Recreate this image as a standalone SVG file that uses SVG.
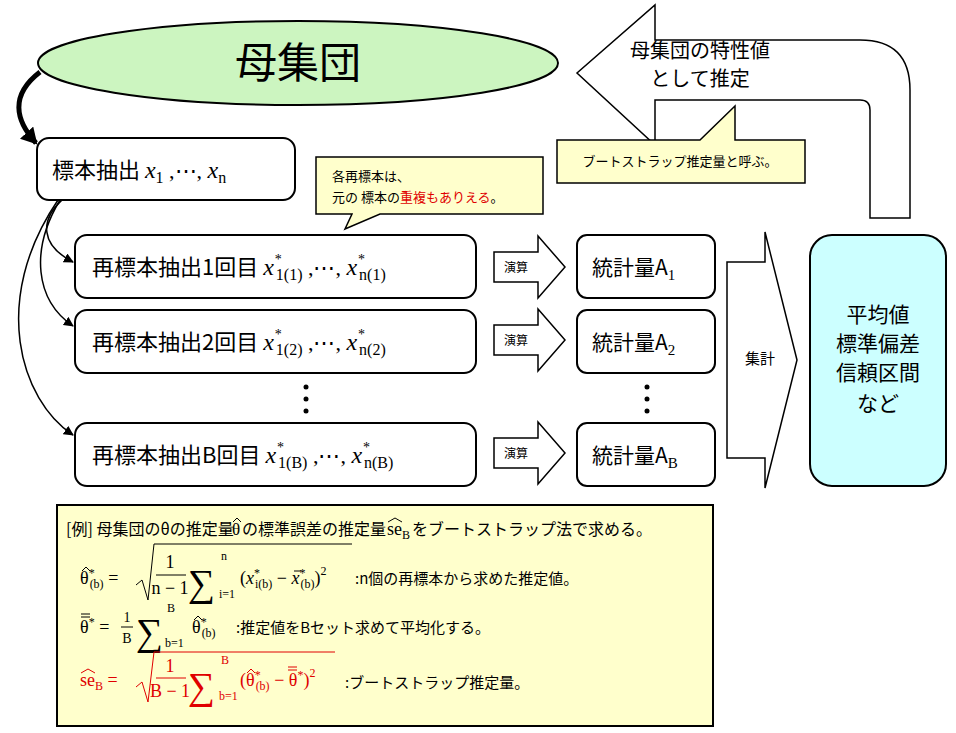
<svg xmlns="http://www.w3.org/2000/svg" width="956" height="733" viewBox="0 0 956 733">
<style>
.j{font-family:"Noto Sans CJK JP","Liberation Sans",sans-serif;fill:#000}
.m{font-family:"Liberation Serif","DejaVu Serif",serif;fill:#000}
.i{font-style:italic}
.box{fill:#fff;stroke:#000;stroke-width:2}
.blk{fill:#fff;stroke:#000;stroke-width:1.5}
.call{fill:#ffffcc;stroke:#000;stroke-width:1.5}
.r{fill:#e00000}
.f{font-family:"Liberation Serif","DejaVu Serif",serif;font-size:18px;fill:#000}
.fr{fill:#e00000}
.s{font-size:12px}
.sg{font-size:40px}
.hat{fill:none;stroke:#000;stroke-width:1}
</style>
<defs>
<marker id="ah" markerWidth="10" markerHeight="10" refX="9" refY="5" orient="auto" markerUnits="userSpaceOnUse"><path d="M0,0 L10,5 L0,10 Z" fill="#000"/></marker>
<marker id="ahb" markerWidth="18" markerHeight="18" refX="14" refY="9" orient="auto" markerUnits="userSpaceOnUse"><path d="M0,0 L16,9 L0,18 Z" fill="#000"/></marker>
</defs>
<g id="connectors" fill="none" stroke="#000">
<path d="M40,72 C10,95 15,120 36,143" stroke-width="5" marker-end="url(#ahb)"/>
<path d="M62,200 C40,220 40,245 73,262" stroke-width="1.5" marker-end="url(#ah)"/>
<path d="M60,200 C30,250 35,300 73,326" stroke-width="1.5" marker-end="url(#ah)"/>
<path d="M58,200 C-10,300 20,400 73,435" stroke-width="1.5" marker-end="url(#ah)"/>
</g>
<g id="population">
<ellipse cx="298" cy="63" rx="260" ry="42" fill="#ccf5c0" stroke="#000" stroke-width="2"/>
<text x="298" y="78" class="j" font-size="42" text-anchor="middle">母集団</text>
</g>
<g id="bigarrow">
<path d="M910,218 L870,218 L870,110 Q870,100 860,100 L655,100 L655,145 L577,73 L655,5 L655,40 L860,40 Q910,40 910,90 Z" class="blk"/>
<text x="700" y="58" class="j" font-size="20" text-anchor="middle">母集団の特性値</text>
<text x="700" y="86" class="j" font-size="20" text-anchor="middle">として推定</text>
</g>
<g id="callout2">
<path d="M557,140 L700,140 L735,106 L735,140 L805,140 L805,183 L557,183 Z" class="call"/>
<text x="680" y="166" class="j" font-size="13" text-anchor="middle">ブートストラップ推定量と呼ぶ。</text>
</g>
<g id="sample">
<rect x="37" y="138" width="258" height="62" rx="12" class="box"/>
<text x="52" y="178" class="j" font-size="22">標本抽出 <tspan class="m i" font-size="24">x</tspan><tspan class="m" font-size="16" dy="5">1</tspan><tspan class="m" font-size="22" dy="-5"> ,⋯, </tspan><tspan class="m i" font-size="24">x</tspan><tspan class="m" font-size="16" dy="5">n</tspan></text>
</g>
<g id="callout1">
<path d="M316,157 L543,157 L543,214 L380,214 L345,229 L352,214 L316,214 Z" class="call"/>
<text x="332" y="181" class="j" font-size="13">各再標本は、</text>
<text x="332" y="202" class="j" font-size="13">元の 標本の<tspan class="r">重複もありえる</tspan>。</text>
</g>
<g id="rs1">
<rect x="75" y="235" width="401" height="63" rx="12" class="box"/>
<text x="92" y="275" class="j" font-size="22">再標本抽出1回目 <tspan class="m i" font-size="24">x</tspan><tspan class="m" font-size="14" dx="1" dy="-11">*</tspan><tspan class="m" font-size="16" dx="-6" dy="16">1(1)</tspan><tspan class="m" font-size="22" dy="-5"> ,⋯, </tspan><tspan class="m i" font-size="24">x</tspan><tspan class="m" font-size="14" dx="1" dy="-11">*</tspan><tspan class="m" font-size="16" dx="-6" dy="16">n(1)</tspan></text>
</g>
<g id="rs2">
<rect x="75" y="310" width="401" height="63" rx="12" class="box"/>
<text x="92" y="350" class="j" font-size="22">再標本抽出2回目 <tspan class="m i" font-size="24">x</tspan><tspan class="m" font-size="14" dx="1" dy="-11">*</tspan><tspan class="m" font-size="16" dx="-6" dy="16">1(2)</tspan><tspan class="m" font-size="22" dy="-5"> ,⋯, </tspan><tspan class="m i" font-size="24">x</tspan><tspan class="m" font-size="14" dx="1" dy="-11">*</tspan><tspan class="m" font-size="16" dx="-6" dy="16">n(2)</tspan></text>
</g>
<g id="rsB">
<rect x="75" y="423" width="401" height="63" rx="12" class="box"/>
<text x="92" y="463" class="j" font-size="22">再標本抽出B回目 <tspan class="m i" font-size="24">x</tspan><tspan class="m" font-size="14" dx="1" dy="-11">*</tspan><tspan class="m" font-size="16" dx="-6" dy="16">1(B)</tspan><tspan class="m" font-size="22" dy="-5"> ,⋯, </tspan><tspan class="m i" font-size="24">x</tspan><tspan class="m" font-size="14" dx="1" dy="-11">*</tspan><tspan class="m" font-size="16" dx="-6" dy="16">n(B)</tspan></text>
</g>
<g id="dots" fill="#000">
<circle cx="306" cy="387" r="2.5"/><circle cx="306" cy="399" r="2.5"/><circle cx="306" cy="411" r="2.5"/>
<circle cx="647" cy="387" r="2.5"/><circle cx="647" cy="399" r="2.5"/><circle cx="647" cy="411" r="2.5"/>
</g>
<g id="op1"><path d="M494,252 L538,252 L538,236 L565,267 L538,298 L538,282 L494,282 Z" class="blk"/><text x="516" y="272" class="j" font-size="12" text-anchor="middle">演算</text></g>
<g id="op2"><path d="M494,325 L538,325 L538,309 L565,340 L538,371 L538,355 L494,355 Z" class="blk"/><text x="516" y="345" class="j" font-size="12" text-anchor="middle">演算</text></g>
<g id="opB"><path d="M494,438 L538,438 L538,422 L565,453 L538,484 L538,468 L494,468 Z" class="blk"/><text x="516" y="458" class="j" font-size="12" text-anchor="middle">演算</text></g>
<g id="st1"><rect x="577" y="235" width="138" height="63" rx="10" class="box"/><text x="592" y="275" class="j" font-size="21">統計量A<tspan class="m" font-size="15" dy="5">1</tspan></text></g>
<g id="st2"><rect x="577" y="310" width="138" height="63" rx="10" class="box"/><text x="592" y="350" class="j" font-size="21">統計量A<tspan class="m" font-size="15" dy="5">2</tspan></text></g>
<g id="stB"><rect x="577" y="423" width="138" height="63" rx="10" class="box"/><text x="592" y="463" class="j" font-size="21">統計量A<tspan class="m" font-size="15" dy="5">B</tspan></text></g>
<g id="aggregate"><path d="M727,262 L765,262 L765,232 L797,360 L765,488 L765,458 L727,458 Z" class="blk"/><text x="760" y="364" class="j" font-size="15" text-anchor="middle">集計</text></g>
<g id="result">
<rect x="810" y="235" width="136" height="251" rx="22" fill="#ccffff" stroke="#000" stroke-width="2"/>
<text x="878" y="322" class="j" font-size="21" text-anchor="middle">平均値</text>
<text x="878" y="351" class="j" font-size="21" text-anchor="middle">標準偏差</text>
<text x="878" y="380" class="j" font-size="21" text-anchor="middle">信頼区間</text>
<text x="878" y="411" class="j" font-size="21" text-anchor="middle">など</text>
</g>
<g id="formulas">
<rect x="57" y="505" width="656" height="221" fill="#ffffcc" stroke="#000" stroke-width="2"/>
<text x="66" y="535" class="j" font-size="16">[例] 母集団のθの推定量</text>
<text x="232" y="535" class="f" style="font-size:17px">θ</text><path d="M233,522 L237,518 L241,522" class="hat"/>
<text x="242" y="535" class="j" font-size="16">の標準誤差の推定量</text>
<text x="387" y="535" class="f">se<tspan class="s" dy="4">B</tspan></text><path d="M388,522 L395,518 L402,522" class="hat"/>
<text x="412" y="535" class="j" font-size="16">をブートストラップ法で求める。</text>

<text x="80" y="584" class="f">θ<tspan class="s" dy="-7">*</tspan><tspan class="s" dx="-5" dy="11">(b)</tspan><tspan dy="-4"> =</tspan></text>
<path d="M82,571 L86,567 L90,571" class="hat"/>
<path d="M136,585 L142,580 L148,600 L154,544 L352,544" fill="none" stroke="#000" stroke-width="1"/>
<text x="170" y="568" text-anchor="middle" class="f">1</text><line x1="156" y1="575" x2="186" y2="575" stroke="#000"/><text x="170" y="594" text-anchor="middle" class="f">n − 1</text>
<text x="188" y="596" class="f" style="font-size:38px">∑</text><text x="221" y="560" class="f s">n</text><text x="219" y="598" class="f s">i=1</text>
<text x="240" y="584" class="f">(<tspan class="i">x</tspan><tspan class="s" dy="-7">*</tspan><tspan class="s" dx="-5" dy="11">i(b)</tspan><tspan dy="-4"> − </tspan><tspan class="i">x</tspan><tspan class="s" dy="-7">*</tspan><tspan class="s" dx="-5" dy="11">(b)</tspan><tspan dy="-4">)</tspan><tspan class="s" dy="-9">2</tspan></text>
<line x1="294" y1="571" x2="301" y2="571" stroke="#000"/>
<text x="355" y="584" class="j" font-size="15">:n個の再標本から求めた推定値。</text>

<text x="80" y="633" class="f">θ<tspan class="s" dy="-7">*</tspan><tspan dy="7"> =</tspan></text>
<line x1="81" y1="617" x2="90" y2="617" stroke="#000"/><line x1="81" y1="614" x2="90" y2="614" stroke="#000"/>
<text x="127" y="622" class="f" style="font-size:14px" text-anchor="middle">1</text><line x1="121" y1="627" x2="133" y2="627" stroke="#000"/><text x="127" y="643" class="f" style="font-size:14px" text-anchor="middle">B</text>
<text x="136" y="645" class="f" style="font-size:38px">∑</text><text x="167" y="612" class="f s">B</text><text x="165" y="647" class="f s">b=1</text>
<text x="192" y="633" class="f">θ<tspan class="s" dy="-7">*</tspan><tspan class="s" dx="-5" dy="11">(b)</tspan></text>
<path d="M194,620 L198,616 L202,620" class="hat"/>
<text x="236" y="633" class="j" font-size="15">:推定値をBセット求めて平均化する。</text>

<text x="80" y="686" class="f fr">se<tspan class="s" dy="4">B</tspan><tspan dy="-4"> =</tspan></text>
<path d="M81,673 L88,669 L95,673" fill="none" stroke="#e00000"/>
<path d="M136,687 L142,682 L148,702 L154,652 L335,652" fill="none" stroke="#e00000" stroke-width="1"/>
<text x="170" y="672" text-anchor="middle" class="f fr">1</text><line x1="156" y1="678" x2="186" y2="678" stroke="#e00000"/><text x="170" y="697" text-anchor="middle" class="f fr">B − 1</text>
<text x="188" y="699" class="f fr" style="font-size:38px">∑</text><text x="221" y="664" class="f s fr">B</text><text x="219" y="700" class="f s fr">b=1</text>
<text x="240" y="686" class="f fr">(θ<tspan class="s" dy="-7">*</tspan><tspan class="s" dx="-5" dy="11">(b)</tspan><tspan dy="-4"> − θ</tspan><tspan class="s" dy="-7">*</tspan><tspan dy="7">)</tspan><tspan class="s" dy="-9">2</tspan></text>
<path d="M247,673 L251,669 L255,673" fill="none" stroke="#e00000"/>
<line x1="288" y1="670" x2="297" y2="670" stroke="#e00000"/><line x1="288" y1="667" x2="297" y2="667" stroke="#e00000"/>
<text x="345" y="688" class="j" font-size="15">:ブートストラップ推定量。</text>
</g>
</svg>
